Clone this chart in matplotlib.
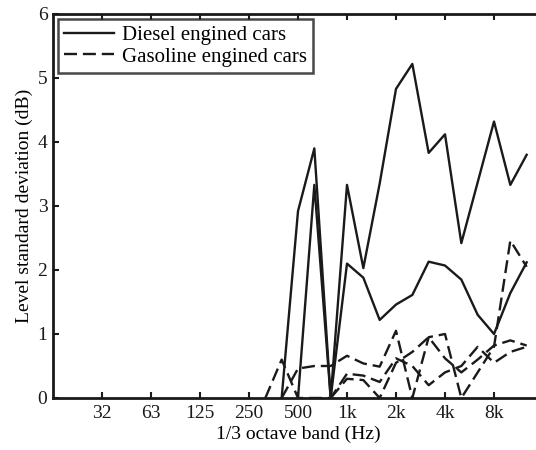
import numpy as np
import matplotlib
matplotlib.use("Agg")
import matplotlib.pyplot as plt

plt.rcParams["font.family"] = ["Liberation Serif", "DejaVu Serif"]
plt.rcParams["font.size"] = 14

# 1/3 octave bands, 16 Hz = index 0
band_labels = ["32", "63", "125", "250", "500", "1k", "2k", "4k", "8k"]
band_label_idx = [3, 6, 9, 12, 15, 18, 21, 24, 27]

# data bands: 315 Hz ... 12.5 kHz
band_idx = np.arange(13, 30)
nan = np.nan

diesel_1 = [nan, 0.0, 2.92, 3.90, 0.0, 3.33, 2.03, 3.35, 4.83, 5.22, 3.83, 4.12, 2.42, 3.37, 4.32, 3.33, 3.80]
diesel_2 = [nan, nan, 0.0, 3.33, 0.0, 2.10, 1.88, 1.22, 1.46, 1.61, 2.13, 2.07, 1.85, 1.30, 1.00, 1.64, 2.12]

gasoline_1 = [0.0, 0.60, 0.0, 0.0, 0.0, 0.38, 0.35, 0.25, 0.62, 0.50, 0.20, 0.40, 0.50, 0.80, 0.55, 0.72, 0.80]
gasoline_2 = [nan, 0.0, 0.46, 0.50, 0.50, 0.66, 0.54, 0.49, 1.05, 0.0, 0.95, 1.00, 0.0, 0.40, 0.80, 2.46, 2.05]
gasoline_3 = [nan, nan, nan, nan, 0.0, 0.30, 0.28, 0.0, 0.55, 0.72, 0.95, 0.62, 0.40, 0.60, 0.82, 0.90, 0.82]

fig = plt.figure(figsize=(5.36, 4.5), dpi=100)
ax = fig.add_axes([53 / 536, 52 / 450, 490 / 536, 384 / 450])

lw = 1.7
ax.plot(band_idx, diesel_1, color="#1a1a1a", lw=lw, label="Diesel engined cars")
ax.plot(band_idx, diesel_2, color="#1a1a1a", lw=lw)
ax.plot(band_idx, gasoline_1, color="#1a1a1a", lw=lw, dashes=(5.5, 2.5), label="Gasoline engined cars")
ax.plot(band_idx, gasoline_2, color="#1a1a1a", lw=lw, dashes=(5.5, 2.5))
ax.plot(band_idx, gasoline_3, color="#1a1a1a", lw=lw, dashes=(5.5, 2.5))

ax.set_xlim(0, 30)
ax.set_ylim(0, 6)
ax.set_xticks(band_label_idx)
ax.set_xticklabels(band_labels)
ax.set_yticks(range(0, 7))

ax.tick_params(direction="in", top=True, right=True, length=4, width=1.5, pad=5, colors="#1a1a1a")
ax.tick_params(axis="y", pad=4)
for s in ax.spines.values():
    s.set_linewidth(2.0)
    s.set_color("#1a1a1a")

ax.set_xlabel("1/3 octave band (Hz)", labelpad=3)
ax.set_ylabel("Level standard deviation (dB)", labelpad=3)

leg = ax.legend(loc="upper left", bbox_to_anchor=(0.0, 1.0), frameon=True, fancybox=False,
                handlelength=2.4, borderpad=0.3, labelspacing=0.1, handletextpad=0.35,
                borderaxespad=0.25, prop={"size": 15})
leg.get_frame().set_edgecolor("#1a1a1a")
leg.get_frame().set_linewidth(1.8)

fig.savefig("out.png", dpi=100)
